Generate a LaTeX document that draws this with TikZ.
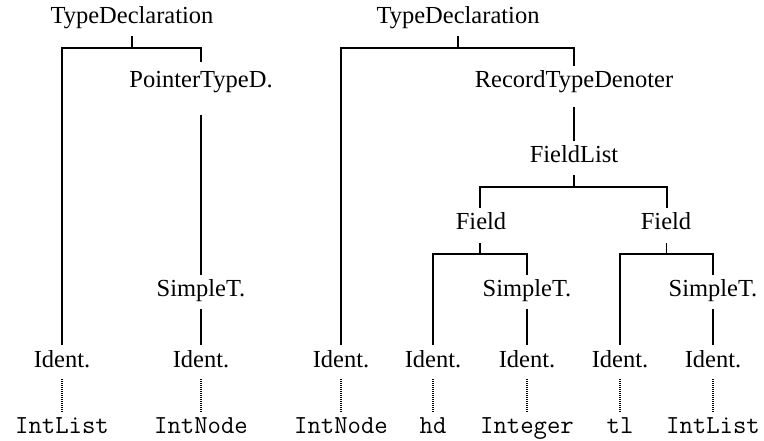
\documentclass[tikz,border=0pt]{standalone}
\usepackage{fontspec}
\setmainfont{Liberation Serif}
\begin{document}
\begin{tikzpicture}[x=1pt,y=-1pt,
  lab/.style={font=\fontsize{24.5}{28}\selectfont, anchor=base, inner xsep=0pt, inner ysep=6pt, text height=16pt, text depth=6pt, outer sep=0pt},
  leaf/.style={font=\ttfamily\fontsize{26}{30}\selectfont, anchor=base, inner xsep=0pt, inner ysep=7pt, text height=14pt, text depth=5pt, outer sep=0pt},
  edge/.style={line width=1.7pt, line join=miter},
  dots/.style={line width=1.1pt, dash pattern=on 0.9pt off 1.1pt}]
\useasboundingbox (0,0) rectangle (764,441);
% left tree
\node[lab] (td1) at (132,24) {TypeDeclaration};
\node[lab] (ptd) at (201,88) {PointerTypeD.};
\node[lab] (st1) at (201,297) {SimpleT.};
\node[lab] (id1) at (62,367) {Ident.};
\node[lab] (id2) at (201,367) {Ident.};
\node[leaf] (l1) at (62,433) {IntList};
\node[leaf] (l2) at (201,433) {IntNode};
\coordinate (b1) at (132,48);
\draw[edge] (td1.south) -- (b1);
\draw[edge, shorten >=4pt] (id1.north) |- (b1) -| (ptd.north);
\draw[edge, shorten <=15pt] (ptd.south) -- (st1.north);
\draw[edge] (st1.south) -- (id2.north);
\draw[dots] (id1.south) -- (l1.north);
\draw[dots] (id2.south) -- (l2.north);
% right tree
\node[lab] (td2) at (458,24) {TypeDeclaration};
\node[lab] (rtd) at (574,88) {RecordTypeDenoter};
\node[lab] (fl) at (574,163) {FieldList};
\node[lab] (f1) at (481,230) {Field};
\node[lab] (f2) at (666,230) {Field};
\node[lab] (st2) at (527,297) {SimpleT.};
\node[lab] (st3) at (713,297) {SimpleT.};
\node[lab] (id3) at (341,367) {Ident.};
\node[lab] (id4) at (433,367) {Ident.};
\node[lab] (id5) at (527,367) {Ident.};
\node[lab] (id6) at (620,367) {Ident.};
\node[lab] (id7) at (713,367) {Ident.};
\node[leaf] (l3) at (341,433) {IntNode};
\node[leaf] (l4) at (433,433) {hd};
\node[leaf] (l5) at (527,433) {Integer};
\node[leaf] (l6) at (620,433) {tl};
\node[leaf] (l7) at (713,433) {IntList};
\coordinate (b2) at (458,48);
\coordinate (b3) at (574,187);
\coordinate (b4) at (480,254);
\coordinate (b5) at (666.5,254);
\draw[edge] (td2.south) -- (b2);
\draw[edge] (id3.north) |- (b2) -| (rtd.north);
\draw[edge, shorten <=7pt] (rtd.south) -- (fl.north);
\draw[edge] (fl.south) -- (b3);
\draw[edge] (480,208) |- (b3) -| (667,208);
\draw[edge] (b4) -- +(0,-11);
\draw[edge] (b5) -- +(0,-11);
\draw[edge] (id4.north) |- (b4) -| (st2.north);
\draw[edge] (id6.north) |- (b5) -| (st3.north);
\draw[edge] (st2.south) -- (id5.north);
\draw[edge] (st3.south) -- (id7.north);
\foreach \i in {3,4,5,6,7} \draw[dots] (id\i.south) -- (l\i.north);
\end{tikzpicture}
\end{document}
